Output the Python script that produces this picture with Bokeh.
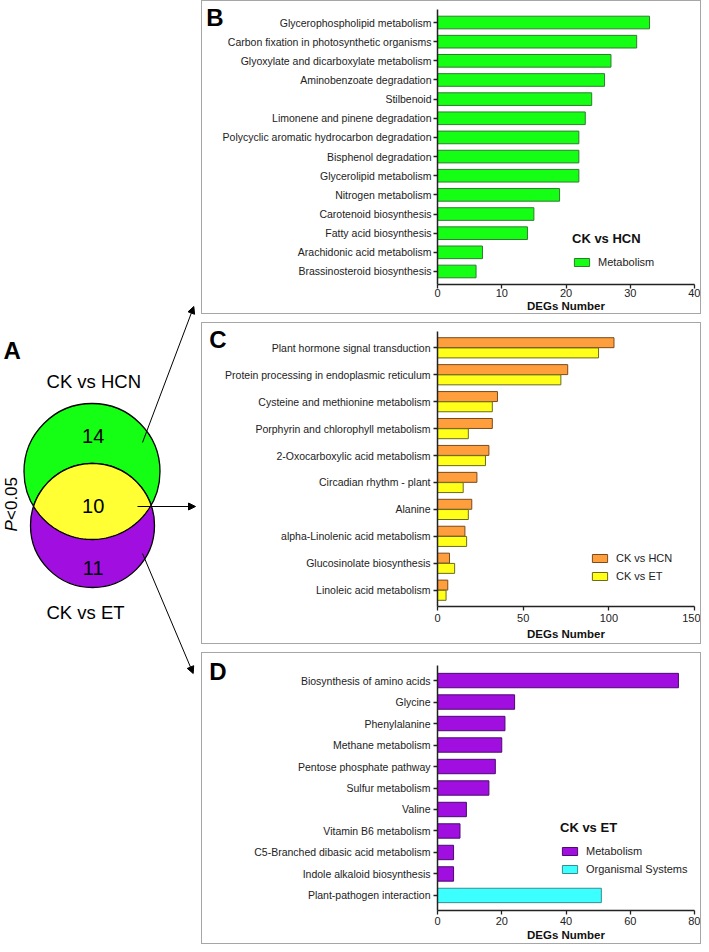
import numpy as np
from bokeh.plotting import figure
from bokeh.models import (ColumnDataSource, FactorRange, Range1d, FixedTicker, CategoricalAxis,
                          Legend, LegendItem, Arrow, NormalHead)
from bokeh.layouts import row, column
from bokeh.transform import dodge
from bokeh.embed import file_html
from bokeh.resources import INLINE
from bokeh.core.properties import value

FONT = "Liberation Sans"

# ---------------- data ----------------
venn_sets = ["CK vs HCN", "CK vs ET"]
venn_counts = [14, 10, 11]          # HCN only, shared, ET only
venn_note = ["P", "<0.05"]

b_pathways = ["Glycerophospholipid metabolism", "Carbon fixation in photosynthetic organisms",
              "Glyoxylate and dicarboxylate metabolism", "Aminobenzoate degradation", "Stilbenoid",
              "Limonene and pinene degradation", "Polycyclic aromatic hydrocarbon degradation",
              "Bisphenol degradation", "Glycerolipid metabolism", "Nitrogen metabolism",
              "Carotenoid biosynthesis", "Fatty acid biosynthesis", "Arachidonic acid metabolism",
              "Brassinosteroid biosynthesis"]
b_counts = [33, 31, 27, 26, 24, 23, 22, 22, 22, 19, 15, 14, 7, 6]
b_ticks = [0, 10, 20, 30, 40]

c_pathways = ["Plant hormone signal transduction", "Protein processing in endoplasmic reticulum",
              "Cysteine and methionine metabolism", "Porphyrin and chlorophyll metabolism",
              "2-Oxocarboxylic acid metabolism", "Circadian rhythm - plant", "Alanine",
              "alpha-Linolenic acid metabolism", "Glucosinolate biosynthesis", "Linoleic acid metabolism"]
c_hcn = [103, 76, 35, 32, 30, 23, 20, 16, 7, 6]
c_et = [94, 72, 32, 18, 28, 15, 18, 17, 10, 5]
c_ticks = [0, 50, 100, 150]

d_pathways = ["Biosynthesis of amino acids", "Glycine", "Phenylalanine", "Methane metabolism",
              "Pentose phosphate pathway", "Sulfur metabolism", "Valine", "Vitamin B6 metabolism",
              "C5-Branched dibasic acid metabolism", "Indole alkaloid biosynthesis",
              "Plant-pathogen interaction"]
d_counts = [75, 24, 21, 20, 18, 16, 9, 7, 5, 5, 51]
d_groups = ["Metabolism", "Metabolism", "Metabolism", "Metabolism", "Metabolism", "Metabolism",
            "Metabolism", "Metabolism", "Metabolism", "Metabolism", "Organismal Systems"]
d_ticks = [0, 20, 40, 60, 80]

GREEN = "#14FF14"
YELLOW = "#FFFF33"
PURPLE = "#A00FE0"
ORANGE = "#FF9E3D"
CYAN = "#3CFFFF"
TXT = "#222222"

# ---------------- Venn panel (A) ----------------
venn = figure(width=201, height=944, x_range=Range1d(0, 201), y_range=Range1d(944, 0),
              output_backend="svg", toolbar_location=None, min_border=0,
              x_axis_type=None, y_axis_type=None, outline_line_color=None)
venn.grid.visible = False

c1, r1 = np.array([91.5, 471.0]), 68.0
c2, r2 = np.array([92.0, 525.0]), 62.0
venn.ellipse(x=[c1[0]], y=[c1[1]], width=[2 * r1], height=[2 * r1],
             fill_color=GREEN, line_color="black", line_width=1.3)
venn.ellipse(x=[c2[0]], y=[c2[1]], width=[2 * r2], height=[2 * r2],
             fill_color=PURPLE, line_color="black", line_width=1.3)
d = np.hypot(*(c2 - c1))
a = (d ** 2 + r1 ** 2 - r2 ** 2) / (2 * d)
al1 = np.arccos(a / r1)
al2 = np.arccos((d - a) / r2)
th1 = np.arctan2(c2[1] - c1[1], c2[0] - c1[0])
th2 = th1 + np.pi
t1 = th1 + np.linspace(-al1, al1, 80)
t2 = th2 + np.linspace(-al2, al2, 80)
lx = np.concatenate([c1[0] + r1 * np.cos(t1), c2[0] + r2 * np.cos(t2)])
ly = np.concatenate([c1[1] + r1 * np.sin(t1), c2[1] + r2 * np.sin(t2)])
venn.patch(lx, ly, fill_color=YELLOW, line_color="black", line_width=1.3)

venn.text(x=[92.7, 92.7, 92.7], y=[435, 505, 567], text=[str(v) for v in venn_counts],
          text_font=value(FONT), text_font_size="20px", text_color="black",
          text_align="center", text_baseline="middle")
venn.text(x=[93.3, 85], y=[381, 612], text=venn_sets, text_font=value(FONT),
          text_font_size="18.5px", text_color="black", text_align="center", text_baseline="middle")
venn.text(x=[3], y=[350], text=["A"], text_font=value(FONT), text_font_size="24px",
          text_font_style="bold", text_color="black", text_align="left", text_baseline="alphabetic")
venn.text(x=[10.5], y=[531], text=[venn_note[0]], angle=np.pi / 2, text_font=value(FONT),
          text_font_size="17px", text_font_style="italic", text_color="black",
          text_align="left", text_baseline="middle")
venn.text(x=[10.5], y=[519.5], text=[venn_note[1]], angle=np.pi / 2, text_font=value(FONT),
          text_font_size="17px", text_color="black", text_align="left", text_baseline="middle")

for (xs, ys, xe, ye) in [(142, 442, 193.3, 306), (137, 506, 195, 506), (142, 553, 192.7, 673)]:
    venn.add_layout(Arrow(end=NormalHead(size=7, fill_color="black", line_color="black"),
                          x_start=xs, y_start=ys, x_end=xe, y_end=ye,
                          line_color="black", line_width=1))


# ---------------- bar panels ----------------
def make_panel(height, factors, xmax, ticks, mbl, mbr, mbt, mbb, pad, lab_std, title_std, ylab_std):
    yr = FactorRange(factors=list(reversed(factors)), range_padding=pad,
                     range_padding_units="absolute")
    p = figure(width=500, height=height, y_range=yr, x_range=Range1d(0, xmax),
               output_backend="svg", toolbar_location=None,
               min_border_left=mbl, min_border_right=mbr, min_border_top=mbt,
               min_border_bottom=mbb, outline_line_color=None)
    p.styles = {"border": "1px solid #a6a6a6"}
    p.grid.visible = False
    p.xaxis.ticker = FixedTicker(ticks=ticks)
    p.xaxis.axis_label = "DEGs Number"
    p.xaxis.axis_label_text_font = FONT
    p.xaxis.axis_label_text_font_style = "bold"
    p.xaxis.axis_label_text_font_size = "11.5px"
    p.xaxis.axis_label_text_color = "#111111"
    p.xaxis.axis_label_standoff = title_std
    p.xaxis.major_label_standoff = lab_std
    p.yaxis.major_label_standoff = ylab_std
    p.xaxis.minor_tick_line_color = None
    for ax in (p.xaxis, p.yaxis):
        ax.axis_line_width = 1.5
        ax.axis_line_color = TXT
        ax.major_tick_line_color = TXT
        ax.major_tick_line_width = 1.3
        ax.major_tick_in = 0
        ax.major_tick_out = 4
        ax.major_label_text_font = FONT
        ax.major_label_text_color = TXT
    p.xaxis.major_label_text_font_size = "11px"
    p.yaxis.major_label_text_font_size = "10.5px"
    return p


def style_legend(leg, x, y):
    leg.location = (x, y)
    leg.margin = 0
    leg.padding = 4
    leg.spacing = 6
    leg.glyph_width = 19
    leg.glyph_height = 10
    leg.label_height = 10
    leg.label_standoff = 7
    leg.border_line_color = None
    leg.background_fill_alpha = 0
    leg.label_text_font = FONT
    leg.label_text_font_size = "11px"
    leg.label_text_color = TXT
    leg.title_text_font = FONT
    leg.title_text_font_size = "13px"
    leg.title_text_font_style = "bold"
    leg.title_text_color = "#111111"
    leg.title_standoff = 10


def letter(p, txt, gap, standoff):
    # panel letter: the top factor of an outer categorical axis (blank factor at the bottom)
    p.extra_y_ranges = {"pos": FactorRange(factors=[" ", txt], factor_padding=gap, range_padding=0)}
    ax = CategoricalAxis(y_range_name="pos", axis_line_color=None, major_tick_line_color=None,
                         minor_tick_line_color=None, major_tick_out=0, major_tick_in=0,
                         major_label_standoff=standoff, major_label_text_font=FONT,
                         major_label_text_font_size="24px", major_label_text_font_style="bold",
                         major_label_text_color="black")
    p.add_layout(ax, "left")


# Panel B
pB = make_panel(314, b_pathways, 40, b_ticks, 235, 8, 8, 31, 0.18, 0, 0, 2)
srcB = ColumnDataSource(dict(cat=b_pathways, val=b_counts))
rB = pB.hbar(y="cat", right="val", left=0, height=0.66, source=srcB,
             fill_color=GREEN, line_color="#2E7D2E", line_width=1)
legB = Legend(items=[LegendItem(label="Metabolism", renderers=[rB])], title="CK vs HCN")
style_legend(legB, 135, 16.5)
pB.add_layout(legB)
letter(pB, "B", 15.2, -4)

# Panel C
pC = make_panel(322, c_pathways, 150, c_ticks, 235, 8, 8, 39, 0.105, 3, 3, 3)
srcC = ColumnDataSource(dict(cat=c_pathways, hcn=c_hcn, et=c_et))
rC1 = pC.hbar(y=dodge("cat", 0.19, range=pC.y_range), right="hcn", left=0, height=0.37,
              source=srcC, fill_color=ORANGE, line_color="#7A4A1A", line_width=1)
rC2 = pC.hbar(y=dodge("cat", -0.19, range=pC.y_range), right="et", left=0, height=0.37,
              source=srcC, fill_color="#FFFF1A", line_color="#6B6B1A", line_width=1)
legC = Legend(items=[LegendItem(label="CK vs HCN", renderers=[rC1]),
                     LegendItem(label="CK vs ET", renderers=[rC2])])
style_legend(legC, 153, 24.5)
pC.add_layout(legC)
letter(pC, "C", 15.2, -4)

# Panel D
pD = make_panel(292, d_pathways, 80, d_ticks, 235, 8, 12, 35, 0.2, 2, 1, 3)
met = [i for i, g in enumerate(d_groups) if g == "Metabolism"]
org = [i for i, g in enumerate(d_groups) if g == "Organismal Systems"]
srcD1 = ColumnDataSource(dict(cat=[d_pathways[i] for i in met], val=[d_counts[i] for i in met]))
srcD2 = ColumnDataSource(dict(cat=[d_pathways[i] for i in org], val=[d_counts[i] for i in org]))
rD1 = pD.hbar(y="cat", right="val", left=0, height=0.67, source=srcD1,
              fill_color=PURPLE, line_color="#4B0A6E", line_width=1)
rD2 = pD.hbar(y="cat", right="val", left=0, height=0.67, source=srcD2,
              fill_color=CYAN, line_color="#3A8C8C", line_width=1)
legD = Legend(items=[LegendItem(label="Metabolism", renderers=[rD1]),
                     LegendItem(label="Organismal Systems", renderers=[rD2])], title="CK vs ET")
style_legend(legD, 123, 35)
pD.add_layout(legD)
letter(pD, "D", 18.4, 25)

layout = row(venn, column(pB, pC, pD, spacing=8))
open("out.html", "w").write(file_html(layout, INLINE))
